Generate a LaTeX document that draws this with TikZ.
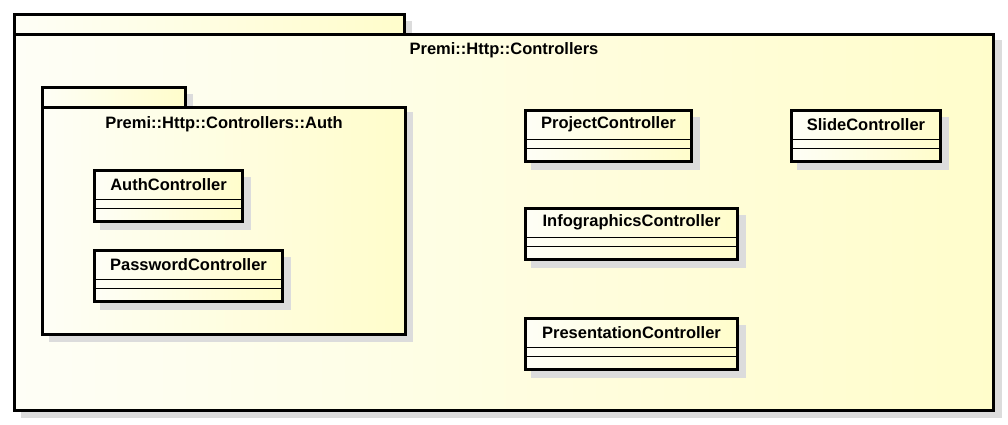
\documentclass[tikz,border=0pt]{standalone}
\usepackage{fontspec}
\setmainfont{Liberation Sans}
\definecolor{pkgpale}{HTML}{FEFEF6}
\definecolor{pkgyellow}{HTML}{FFFDCB}
\definecolor{shadowgray}{HTML}{DCDCDC}
\begin{document}
\begin{tikzpicture}[x=1pt, y=-1pt,
    box/.style={draw=black, line width=3pt, left color=pkgpale, right color=pkgyellow},
    shadowbox/.style={fill=shadowgray},
    title/.style={font=\bfseries\fontsize{16.5}{18}\selectfont, inner sep=0pt}]
    \useasboundingbox (0,0) rectangle (1008,424);
    % Package Premi::Http::Controllers
    \fill[shadowbox] (21,21) rectangle (412,40);
    \fill[shadowbox] (21,40) rectangle (1002,418);
    \draw[box] (14.5,14.5) rectangle (404.5,34.5);
    \draw[box] (14.5,34.5) rectangle (993.5,410.5);
    \node[title] (ctrl) at (504,50) {Premi::Http::Controllers};
    % Package Premi::Http::Controllers::Auth
    \fill[shadowbox] (49,94) rectangle (193,112);
    \fill[shadowbox] (49,112) rectangle (413,342);
    \draw[box] (42.5,87.5) rectangle (185.5,107.5);
    \draw[box] (42.5,107.5) rectangle (405.5,334.5);
    \node[title] (auth) at (224,124) {Premi::Http::Controllers::Auth};
    % Classes
    \foreach \x/\y/\w/\cls in {94.5/170.5/148/AuthController,
                                94.5/250.5/188/PasswordController,
                                525.5/110.5/166/ProjectController,
                                525.5/208.5/212/InfographicsController,
                                525.5/318.5/212/PresentationController,
                                791.5/110.5/149/SlideController}
    {
    \fill[shadowbox] (\x+5.5,\y+6.5) rectangle (\x+\w+8.5,\y+59.5);
    \draw[box] (\x,\y) rectangle (\x+\w,\y+51);
    \draw[line width=1pt] (\x,\y+28.5) -- (\x+\w,\y+28.5);
    \draw[line width=1pt] (\x,\y+37.5) -- (\x+\w,\y+37.5);
    \node[title] (\cls) at (\x+\w/2,\y+14) {\cls};
    }
\end{tikzpicture}
\end{document}
